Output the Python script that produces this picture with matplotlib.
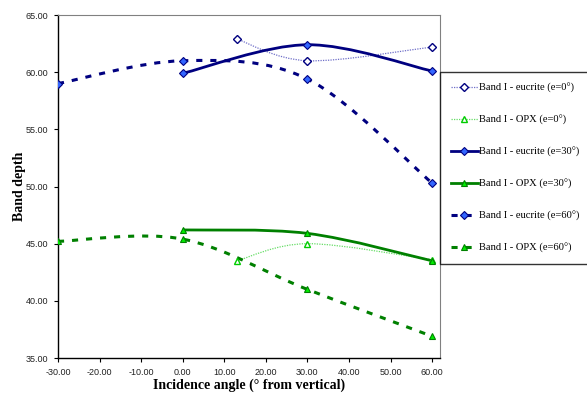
import numpy as np
import matplotlib.pyplot as plt
from matplotlib.path import Path
from matplotlib.patches import PathPatch
from matplotlib.lines import Line2D

# incidence angles (deg) and band depths
x_e0 = [13, 30, 60]
eucrite_e0 = [62.9, 61.0, 62.2]
opx_e0 = [43.5, 45.0, 43.6]

x_e30 = [0, 30, 60]
eucrite_e30 = [59.9, 62.4, 60.1]
opx_e30 = [46.2, 45.9, 43.5]

x_e60 = [-30, 0, 30, 60]
eucrite_e60 = [59.0, 61.0, 59.4, 50.3]
opx_e60 = [45.2, 45.4, 41.0, 36.9]

labels = ['Band I - eucrite (e=0°)', 'Band I - OPX (e=0°)',
          'Band I - eucrite (e=30°)', 'Band I - OPX (e=30°)',
          'Band I - eucrite (e=60°)', 'Band I - OPX (e=60°)']

xticks = [-30, -20, -10, 0, 10, 20, 30, 40, 50, 60]
yticks = [35, 40, 45, 50, 55, 60, 65]

NAVY = '#000080'
GREEN = '#008000'


def smooth_path(x, y):
    # excel-style smoothed line: cubic bezier through the points
    p = np.column_stack([x, y]).astype(float)
    ext = np.vstack([p[0], p, p[-1]])
    verts = [p[0]]
    codes = [Path.MOVETO]
    for i in range(len(p) - 1):
        c1 = ext[i + 1] + (ext[i + 2] - ext[i]) / 6
        c2 = ext[i + 2] - (ext[i + 3] - ext[i + 1]) / 6
        verts += [c1, c2, ext[i + 2]]
        codes += [Path.CURVE4] * 3
    return Path(verts, codes)


fig = plt.figure(figsize=(5.87, 3.97), dpi=100)
ax = fig.add_axes([58 / 587, 39 / 397, 382 / 587, 343 / 397])

series = [
    (x_e0, eucrite_e0, dict(color='#6f6fc8', lw=0.9, ls=(0, (1, 1))),
     dict(marker='D', ms=4, mfc='white', mec=NAVY, mew=1.0)),
    (x_e0, opx_e0, dict(color='#66dd66', lw=0.9, ls=(0, (1, 1))),
     dict(marker='^', ms=5, mfc='white', mec='#00cc00', mew=1.0)),
    (x_e30, eucrite_e30, dict(color=NAVY, lw=2.0, ls='-'),
     dict(marker='D', ms=4, mfc='#3366ff', mec=NAVY, mew=0.8)),
    (x_e30, opx_e30, dict(color=GREEN, lw=2.0, ls='-'),
     dict(marker='^', ms=5, mfc='#00ee00', mec=GREEN, mew=0.8)),
    (x_e60, eucrite_e60, dict(color=NAVY, lw=2.2, ls=(0, (2.0, 2.6))),
     dict(marker='D', ms=4, mfc='#3366ff', mec=NAVY, mew=0.8)),
    (x_e60, opx_e60, dict(color=GREEN, lw=2.2, ls=(0, (2.0, 2.6))),
     dict(marker='^', ms=5, mfc='#00ee00', mec=GREEN, mew=0.8)),
]

handles = []
for (xs, ys, lstyle, mstyle), lab in zip(series, labels):
    patch = PathPatch(smooth_path(xs, ys), facecolor='none',
                      edgecolor=lstyle['color'], lw=lstyle['lw'],
                      linestyle=lstyle['ls'], capstyle='butt')
    ax.add_patch(patch)
    ax.plot(xs, ys, ls='none', zorder=3, **mstyle)
    handles.append(Line2D([], [], color=lstyle['color'], lw=lstyle['lw'],
                          linestyle=lstyle['ls'], **mstyle))

ax.set_xlim(-30, 61.9)
ax.set_ylim(35, 65)
ax.set_xticks(xticks)
ax.set_yticks(yticks)
ax.xaxis.set_major_formatter(plt.FormatStrFormatter('%.2f'))
ax.yaxis.set_major_formatter(plt.FormatStrFormatter('%.2f'))
ax.tick_params(labelsize=6.5, length=3, width=0.8, direction='out', pad=4,
               labelcolor='#222222')
for lab in ax.get_xticklabels() + ax.get_yticklabels():
    lab.set_family('Liberation Sans')

for s in ['left', 'bottom']:
    ax.spines[s].set_color('black')
    ax.spines[s].set_linewidth(1.0)
for s in ['top', 'right']:
    ax.spines[s].set_color('#808080')
    ax.spines[s].set_linewidth(0.8)

ax.set_xlabel('Incidence angle (° from vertical)', family='Liberation Serif',
              fontsize=10, fontweight='bold', labelpad=1)
ax.set_ylabel('Band depth', family='Liberation Serif', fontsize=10,
              fontweight='bold', labelpad=0)

leg = fig.legend(handles, labels, loc='upper left',
                 bbox_to_anchor=(440 / 587, 1 - 72 / 397),
                 prop={'family': 'Liberation Serif', 'size': 7.6},
                 frameon=True, fancybox=False, handlelength=2.6,
                 handletextpad=0.05, labelspacing=2.1, borderpad=1.0,
                 borderaxespad=0, numpoints=1)
leg.get_frame().set_edgecolor('black')
leg.get_frame().set_linewidth(1.0)

fig.savefig('out.png', dpi=100)
